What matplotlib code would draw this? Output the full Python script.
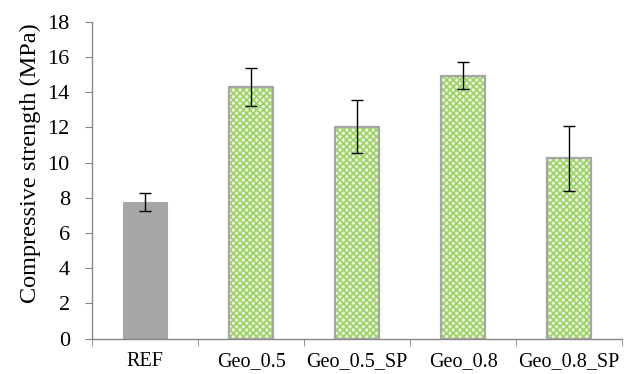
import matplotlib
matplotlib.use("Agg")
import matplotlib.pyplot as plt
import numpy as np

categories = ["REF", "Geo_0.5", "Geo_0.5_SP", "Geo_0.8", "Geo_0.8_SP"]
values = [7.75, 14.3, 12.05, 14.95, 10.25]
errors = [0.5, 1.1, 1.5, 0.75, 1.85]
y_ticks = [0, 2, 4, 6, 8, 10, 12, 14, 16, 18]

plt.rcParams['font.family'] = ['Liberation Serif']
plt.rcParams['hatch.linewidth'] = 1.3

fig = plt.figure(figsize=(6.37, 3.74), dpi=100)
ax = fig.add_axes([92/637, 1-338.5/374, 530/637, (338.5-22)/374])

x = np.arange(len(categories))
w = 0.42
gray = "#A6A6A6"
green = "#9BD465"

# REF bar
ax.bar(x[0], values[0], width=w, color=gray, edgecolor=gray, linewidth=0.8, zorder=2)
# hatched bars
for i in range(1, len(categories)):
    ax.bar(x[i], values[i], width=w, facecolor="#F2FAEA", edgecolor=green,
           hatch="xxxxx", linewidth=0, zorder=2)
    ax.bar(x[i], values[i], width=w, facecolor="none", edgecolor=gray,
           linewidth=1.6, zorder=3)

ax.errorbar(x, values, yerr=errors, fmt="none", ecolor="black", elinewidth=1,
            capsize=4, capthick=1, zorder=4)

ax.set_xlim(-0.5, len(categories) - 0.5)
ax.set_ylim(0, 18)
ax.set_yticks(y_ticks)
ax.set_yticklabels([str(t) for t in y_ticks], fontsize=16)
ax.set_xticks(x)
ax.set_xticklabels(categories, fontsize=14.5)
ax.tick_params(axis='x', length=0, pad=10)
ax.set_xticks(np.arange(-0.5, len(categories)), minor=True)
ax.tick_params(axis='x', which='minor', length=5, color="#868686", direction='out')
ax.tick_params(axis='y', length=5, color="#868686", direction='out', pad=11)

for s in ["top", "right"]:
    ax.spines[s].set_visible(False)
for s in ["left", "bottom"]:
    ax.spines[s].set_color("#868686")
    ax.spines[s].set_linewidth(1)

ax.set_ylabel("Compressive strength (MPa)", fontsize=17.5)
ax.yaxis.set_label_coords(-0.097, 0.555)

fig.savefig("out.png", dpi=100)
